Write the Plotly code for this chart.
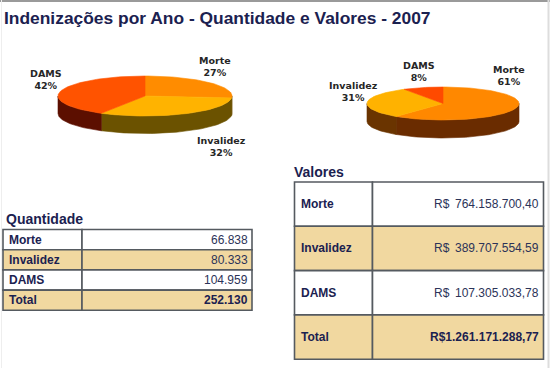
import math
import plotly.graph_objects as go

# ---------------- data ----------------
titulo = "Indenizações por Ano - Quantidade e Valores - 2007"
categorias = ["Morte", "Invalidez", "DAMS"]
quantidade = [66838, 80333, 104959]
valores = [764158700.40, 389707554.59, 107305033.78]
pct_quantidade = [27, 32, 42]   # percent labels as printed
pct_valores = [61, 31, 8]       # percent labels as printed
titulo_qtd = "Quantidade"
titulo_val = "Valores"
rotulo_total = "Total"
moeda = "R$"

# ---------------- style ----------------
W, H = 550, 368
NAVY = "#1b2150"
TEXT = "#2c3358"
TAN = "#f1d8a0"
BORDER = "#555a60"
LBL = "#262626"

pie1 = dict(cx=145, cy=96, rx=87, ry=20, depth=17.5,
            tops=["#ff8c00", "#ffb300", "#ff5300"],
            sides=["#6b4c00", "#6b5200", "#5c0f00"],
            labels=[(215, 66), (221, 146), (46, 79)])
pie2 = dict(cx=443, cy=103.5, rx=76, ry=16.5, depth=18,
            tops=["#ff8800", "#ffb200", "#ff4a00"],
            sides=["#6a2c00", "#6a3400", "#5c1000"],
            labels=[(509, 75), (353, 91), (419, 71)])


def fmt_int(n):
    return f"{n:,}".replace(",", ".")


def fmt_brl(v):
    s = f"{v:,.2f}"
    return s.replace(",", "X").replace(".", ",").replace("X", ".")


fig = go.Figure()


def add_poly(pts, color):
    xs = [p[0] for p in pts] + [pts[0][0]]
    ys = [p[1] for p in pts] + [pts[0][1]]
    fig.add_trace(go.Scatter(x=xs, y=ys, mode="lines", fill="toself",
                             fillcolor=color, line=dict(color=color, width=0.6),
                             hoverinfo="skip", showlegend=False))


def pie3d(values, pcts, cfg):
    cx, cy, rx, ry, d = cfg["cx"], cfg["cy"], cfg["rx"], cfg["ry"], cfg["depth"]
    total = sum(values)
    spans, a = [], 0.0
    for v in values:
        b = a + v / total * 360.0
        spans.append((a, b))
        a = b

    def pt(t, dy=0.0):
        r = math.radians(t)
        return (cx + rx * math.sin(r), cy - ry * math.cos(r) + dy)

    def arc(s, e, dy=0.0):
        n = max(2, int(abs(e - s) / 2) + 1)
        return [pt(s + (e - s) * i / n, dy) for i in range(n + 1)]

    for (s, e), col in zip(spans, cfg["sides"]):
        lo, hi = max(s, 90.0), min(e, 270.0)
        if hi > lo:
            add_poly(arc(lo, hi) + arc(hi, lo, d), col)
    for (s, e), col in zip(spans, cfg["tops"]):
        add_poly([(cx, cy)] + arc(s, e), col)
    for cat, p, (lx, ly) in zip(categorias, pcts, cfg["labels"]):
        fig.add_annotation(x=lx, y=ly, xref="x", yref="y", showarrow=False,
                           text=f"<b>{cat}<br>{p}%</b>", align="center",
                           font=dict(family="DejaVu Sans", size=9.5, color=LBL))


pie3d(quantidade, pct_quantidade, pie1)
pie3d(valores, pct_valores, pie2)

shapes = []


def table(rows, left, split, right, top, rh, right_x, currency_x=None):
    for i, (lab, val, bold) in enumerate(rows):
        y0, y1 = top + i * rh, top + (i + 1) * rh
        fill = TAN if i % 2 == 1 else "white"
        for xa, xb in ((left, split), (split, right)):
            shapes.append(dict(type="rect", xref="x", yref="y", x0=xa, x1=xb,
                               y0=y0, y1=y1, fillcolor=fill,
                               line=dict(color=BORDER, width=1.6), layer="below"))
        ym = (y0 + y1) / 2
        fig.add_annotation(x=left + 4, y=ym, xref="x", yref="y", showarrow=False,
                           xanchor="left", yanchor="middle", text=f"<b>{lab}</b>",
                           font=dict(family="Liberation Sans", size=12, color=NAVY))
        if currency_x is not None and not bold:
            fig.add_annotation(x=currency_x, y=ym, xref="x", yref="y", showarrow=False,
                               xanchor="left", yanchor="middle", text=moeda,
                               font=dict(family="Liberation Sans", size=12, color=TEXT))
        txt = f"<b>{val}</b>" if bold else val
        fig.add_annotation(x=right_x, y=ym, xref="x", yref="y", showarrow=False,
                           xanchor="right", yanchor="middle", text=txt,
                           font=dict(family="Liberation Sans", size=12,
                                     color=NAVY if bold else TEXT))


rows_q = [(c, fmt_int(q), False) for c, q in zip(categorias, quantidade)]
rows_q.append((rotulo_total, fmt_int(sum(quantidade)), True))
table(rows_q, 3, 82, 252, 229.5, 20.2, 249.5)

rows_v = [(c, fmt_brl(v), False) for c, v in zip(categorias, valores)]
rows_v.append((rotulo_total, moeda + fmt_brl(round(sum(valores), 2)), True))
table(rows_v, 294.5, 372.5, 543.5, 182, 44.3, 540.5, currency_x=432)

# section titles
fig.add_annotation(x=4, y=219, xref="x", yref="y", showarrow=False, xanchor="left",
                   yanchor="middle", text=f"<b>{titulo_qtd}</b>",
                   font=dict(family="Liberation Sans", size=14, color=NAVY))
fig.add_annotation(x=292, y=172, xref="x", yref="y", showarrow=False, xanchor="left",
                   yanchor="middle", text=f"<b>{titulo_val}</b>",
                   font=dict(family="Liberation Sans", size=14, color=NAVY))
fig.add_annotation(x=2, y=18, xref="x", yref="y", showarrow=False, xanchor="left",
                   yanchor="middle", text=f"<b>{titulo}</b>",
                   font=dict(family="Liberation Sans", size=17.4, color=NAVY))

# page frame
shapes.append(dict(type="line", xref="x", yref="y", x0=0, x1=W, y0=1, y1=1,
                   line=dict(color="#9a9a9a", width=2)))
shapes.append(dict(type="line", xref="x", yref="y", x0=548.5, x1=548.5, y0=0, y1=H,
                   line=dict(color="#dddddd", width=2)))
shapes.append(dict(type="line", xref="x", yref="y", x0=1.5, x1=1.5, y0=0, y1=H,
                   line=dict(color="#eeeeee", width=1)))

fig.update_layout(
    width=W, height=H, margin=dict(l=0, r=0, t=0, b=0),
    paper_bgcolor="white", plot_bgcolor="white", shapes=shapes,
    xaxis=dict(range=[0, W], visible=False, fixedrange=True),
    yaxis=dict(range=[H, 0], visible=False, fixedrange=True),
    showlegend=False,
)

fig.write_html("out.html", config={"displayModeBar": False},
               post_script="document.body.style.margin='0';document.body.style.overflow='hidden';")
